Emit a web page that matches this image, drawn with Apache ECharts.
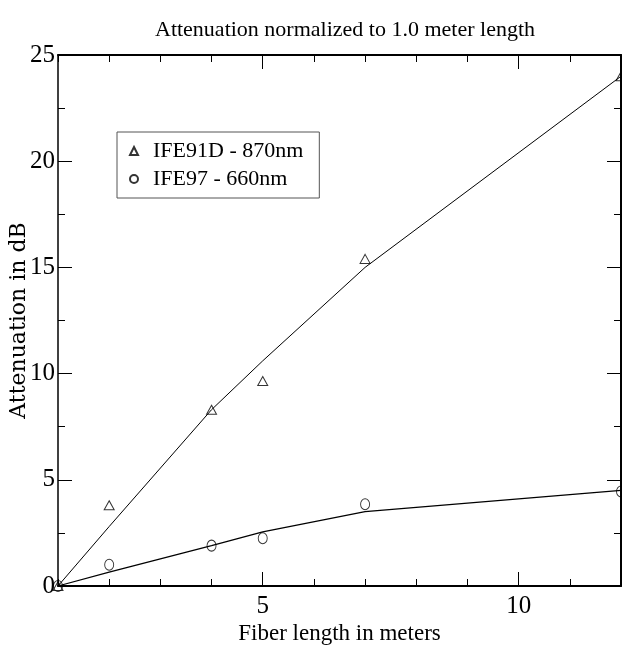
<!DOCTYPE html>
<html>
<head>
<meta charset="utf-8">
<script src="https://cdn.jsdelivr.net/npm/echarts@6/dist/echarts.min.js"></script>
<style>
  html, body { margin: 0; padding: 0; background: #fff; }
  #chart { width: 622px; height: 650px; }
</style>
</head>
<body>
<div id="chart"></div>
<script>
// measured points
var lengths = [1, 2, 4, 5, 7, 12]
var ife91d = [0, 3.8, 8.3, 9.65, 15.4, 24.0]
var ife97 = [0, 1.0, 1.9, 2.25, 3.85, 4.45]
// fitted curves drawn through the same lengths
var fit91d = [0, 2.8, 8.3, 10.6, 15.0, 24.0]
var fit97 = [0, 0.65, 1.9, 2.55, 3.5, 4.5]
var xMajor = [5, 10]
var yTicks = [0, 5, 10, 15, 20, 25]

function pairs (xs, ys) {
  return xs.map(function (x, i) { return [x, ys[i]] })
}

var serif = 'Liberation Serif'
var chart = echarts.init(document.getElementById('chart'))

var tickBase = { show: true, inside: true, lineStyle: { color: '#000', width: 1 } }

chart.setOption({
  animation: false,
  title: {
    text: 'Attenuation normalized to 1.0 meter length',
    left: 340,
    textAlign: 'center',
    top: 14,
    textStyle: { fontFamily: serif, fontWeight: 'normal', fontSize: 22, color: '#000' }
  },
  grid: { left: 58, right: 1, top: 55, bottom: 64, outerBoundsMode: 'none', containLabel: false },
  legend: {
    orient: 'vertical',
    left: 117,
    top: 132,
    padding: [8, 16, 8, 12],
    itemGap: 6,
    itemWidth: 8,
    itemHeight: 8,
    borderColor: '#555',
    borderWidth: 1,
    data: ['IFE91D - 870nm', 'IFE97 - 660nm'],
    textStyle: { fontFamily: serif, fontSize: 22, color: '#000', padding: [0, 0, 0, 10] }
  },
  xAxis: [
    { // bottom: minor ticks and labels
      type: 'value', min: 1, max: 12, interval: 1, position: 'bottom',
      axisLine: { show: true, lineStyle: { color: '#000', width: 2 } },
      axisTick: Object.assign({}, tickBase, { length: 7 }),
      axisLabel: {
        margin: 8, fontFamily: serif, fontSize: 25, color: '#000',
        formatter: function (v) { return xMajor.indexOf(v) >= 0 ? String(v) : '' }
      },
      splitLine: { show: false },
      name: 'Fiber length in meters',
      nameLocation: 'middle',
      nameGap: 36,
      nameMoveOverlap: false,
      nameTextStyle: { fontFamily: serif, fontSize: 23, color: '#000', verticalAlign: 'top' }
    },
    { // bottom: major ticks
      type: 'value', min: 1, max: 12, position: 'bottom', gridIndex: 0,
      axisLine: { show: false },
      axisTick: Object.assign({}, tickBase, { length: 14, customValues: xMajor }),
      axisLabel: { show: false },
      splitLine: { show: false }
    },
    { // top mirror: minor
      type: 'value', min: 1, max: 12, interval: 1, position: 'top',
      axisLine: { show: true, lineStyle: { color: '#000', width: 2 } },
      axisTick: Object.assign({}, tickBase, { length: 7 }),
      axisLabel: { show: false },
      splitLine: { show: false }
    },
    { // top mirror: major
      type: 'value', min: 1, max: 12, position: 'top',
      axisLine: { show: false },
      axisTick: Object.assign({}, tickBase, { length: 14, customValues: xMajor }),
      axisLabel: { show: false },
      splitLine: { show: false }
    }
  ],
  yAxis: [
    {
      type: 'value', min: 0, max: 25, interval: 5, position: 'left',
      axisLine: { show: true, lineStyle: { color: '#000', width: 1.5 } },
      axisTick: Object.assign({}, tickBase, { length: 14 }),
      minorTick: { show: true, splitNumber: 2, length: 7, lineStyle: { color: '#000', width: 1 } },
      axisLabel: {
        margin: 3, fontFamily: serif, fontSize: 25, color: '#000',
        customValues: yTicks
      },
      splitLine: { show: false },
      name: 'Attenuation in dB',
      nameLocation: 'middle',
      nameGap: 28,
      nameMoveOverlap: false,
      nameTextStyle: { fontFamily: 'DejaVu Serif', fontSize: 22, color: '#000' }
    },
    {
      type: 'value', min: 0, max: 25, interval: 5, position: 'right',
      axisLine: { show: true, lineStyle: { color: '#000', width: 2 } },
      axisTick: Object.assign({}, tickBase, { length: 14 }),
      minorTick: { show: true, splitNumber: 2, length: 7, lineStyle: { color: '#000', width: 1 } },
      axisLabel: { show: false },
      splitLine: { show: false }
    }
  ],
  series: [
    {
      name: 'fit91d', type: 'line', data: pairs(lengths, fit91d),
      symbol: 'none', lineStyle: { color: '#000', width: 1 }, z: 2
    },
    {
      name: 'fit97', type: 'line', data: pairs(lengths, fit97),
      symbol: 'none', lineStyle: { color: '#000', width: 1.2 }, z: 2
    },
    {
      name: 'IFE91D - 870nm', type: 'scatter', data: pairs(lengths, ife91d),
      symbol: 'triangle', symbolSize: [10, 9], clip: false,
      itemStyle: { color: 'rgba(255,255,255,0)', borderColor: '#000', borderWidth: 1 }, z: 3
    },
    {
      name: 'IFE97 - 660nm', type: 'scatter', data: pairs(lengths, ife97),
      symbol: 'circle', symbolSize: [9, 11], clip: false,
      itemStyle: { color: 'rgba(255,255,255,0)', borderColor: '#000', borderWidth: 1 }, z: 3
    }
  ]
})
</script>
</body>
</html>
